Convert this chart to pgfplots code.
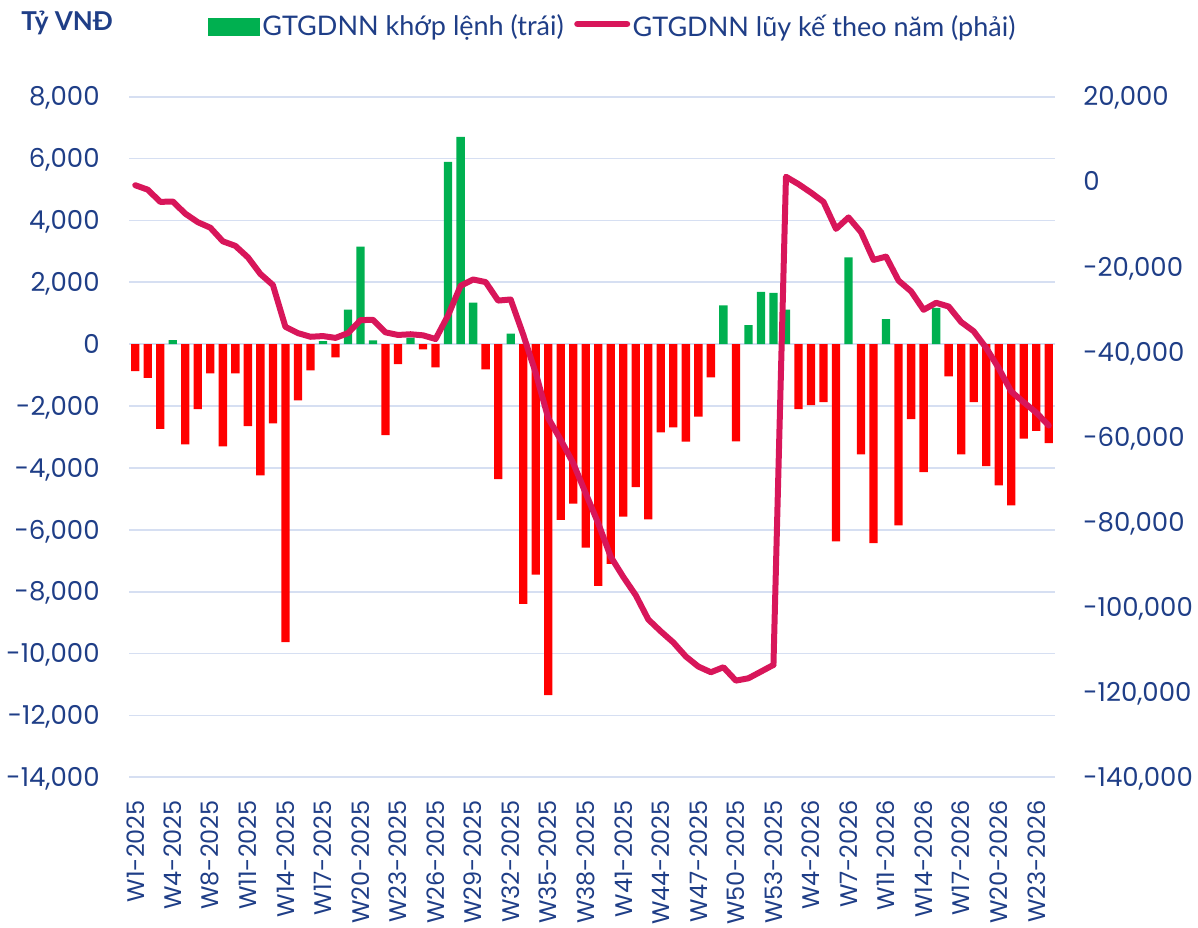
\documentclass[border=0pt]{standalone}
\usepackage{pgfplots}
\usepackage{pgfplotstable}
\pgfplotsset{compat=1.18}
\usepackage{fontspec}
\setmainfont{Poppins}
\newfontfamily\vnfont{Lato}
\definecolor{navy}{RGB}{31,62,135}
\definecolor{gridc}{RGB}{214,223,242}
\definecolor{barg}{RGB}{0,176,80}
\definecolor{barr}{RGB}{255,0,0}
\definecolor{linec}{RGB}{216,22,90}

\pgfplotstableread{
x y
3 130
15 100
17 1120
18 3150
19 120
22 215
25 5890
26 6700
27 1340
30 340
47 1255
49 620
50 1690
51 1660
52 1120
57 2810
60 810
64 1170
}\postab

\pgfplotstableread{
x y
0 -870
1 -1090
2 -2740
4 -3240
5 -2100
6 -945
7 -3300
8 -945
9 -2650
10 -4240
11 -2560
12 -9630
13 -1815
14 -850
16 -430
20 -2940
21 -645
23 -170
24 -750
28 -810
29 -4360
31 -8390
32 -7445
33 -11340
34 -5680
35 -5150
36 -6575
37 -7815
38 -7100
39 -5570
40 -4620
41 -5660
42 -2850
43 -2690
44 -3150
45 -2340
46 -1070
48 -3140
53 -2100
54 -1970
55 -1875
56 -6370
58 -3560
59 -6430
61 -5855
62 -2425
63 -4135
65 -1040
66 -3560
67 -1875
68 -3945
69 -4565
70 -5210
71 -3050
72 -2800
73 -3200
}\negtab

\pgfplotstableread{
x y
0 -815
1 -1860
2 -4725
3 -4640
4 -7500
5 -9500
6 -10800
7 -14000
8 -15070
9 -17760
10 -21670
11 -24280
12 -34100
13 -35575
14 -36440
15 -36270
16 -36700
17 -35575
18 -32530
19 -32450
20 -35400
21 -36010
22 -35840
23 -36100
24 -36965
25 -31400
26 -24450
27 -22970
28 -23580
29 -27930
30 -27670
31 -35900
32 -44940
33 -55550
34 -60660
35 -66160
36 -73240
37 -80310
38 -88170
39 -92890
40 -97210
41 -102900
42 -105700
43 -108300
44 -111600
45 -113970
46 -115300
47 -114130
48 -117270
49 -116720
50 -115150
51 -113580
}\linetabA

\pgfplotstableread{
x y
51 -113580
52 1180
53 -550
54 -2550
55 -4730
56 -11070
57 -8380
58 -11850
59 -18370
60 -17590
61 -23240
62 -25760
63 -30100
64 -28450
65 -29320
66 -32970
67 -35140
68 -39050
69 -43830
70 -49300
71 -51830
72 -54260
73 -57300
}\linetabB

\begin{document}
\begin{tikzpicture}
\useasboundingbox (0,0) rectangle (599pt,463.5pt);
\begin{axis}[
  at={(64.5pt,74.85pt)}, anchor=south west,
  scale only axis, width=463pt, height=340.3pt,
  xmin=-0.5, xmax=73.5, ymin=-14000, ymax=8000,
  scaled y ticks=false,
  axis line style={draw=none}, major tick style={draw=none}, minor tick style={draw=none},
  ybar, bar width=0.663, bar shift=0pt,
  ytick={-14000,-12000,-10000,-8000,-6000,-4000,-2000,0,2000,4000,6000,8000},
  yticklabels={{-14,000},{-12,000},{-10,000},{-8,000},{-6,000},{-4,000},{-2,000},{0},{2,000},{4,000},{6,000},{8,000}},
  ymajorgrids, grid style={gridc, line width=0.9pt},
  yticklabel style={anchor=base east, inner sep=0pt, yshift=-4.6pt, text=navy, font=\fontsize{13}{15}\selectfont},
  yticklabel shift=14.5pt,
  xtick={0,3,...,72},
  xticklabels={W1-2025,W4-2025,W8-2025,W11-2025,W14-2025,W17-2025,W20-2025,W23-2025,W26-2025,W29-2025,W32-2025,W35-2025,W38-2025,W41-2025,W44-2025,W47-2025,W50-2025,W53-2025,W4-2026,W7-2026,W11-2026,W14-2026,W17-2026,W20-2026,W23-2026},
  xticklabel style={rotate=90, anchor=east, inner sep=0pt, text=navy, font=\fontsize{12}{14}\selectfont},
  xticklabel shift=7pt,
  legend columns=2,
  legend style={at={(axis description cs:0.0853,1.1024)}, anchor=west, draw=none, fill=none,
    inner sep=0pt, outer sep=0pt, font=\vnfont\fontsize{13.5}{16}\selectfont, text=navy,
    /tikz/every even column/.append style={column sep=4pt},
    nodes={inner sep=1.25pt}},
]
\addplot[fill=barg, draw=none, legend image code/.code={\fill[barg] (0pt,-4.6pt) rectangle (26pt,4.6pt);}] table {\postab};
\addlegendentry{GTGDNN khớp lệnh (trái)}
\addplot[fill=barr, draw=none, forget plot] table {\negtab};
\addlegendimage{legend image code/.code={\draw[linec, line width=3.2pt, line cap=round] (1.6pt,1.5pt) -- (26.4pt,1.5pt);}}
\addlegendentry{GTGDNN lũy kế theo năm (phải)}
\end{axis}
\begin{axis}[
  at={(64.5pt,74.85pt)}, anchor=south west,
  scale only axis, width=463pt, height=340.3pt,
  xmin=-0.5, xmax=73.5, ymin=-140000, ymax=20000,
  scaled y ticks=false,
  axis x line=none, axis y line*=right,
  axis line style={draw=none}, major tick style={draw=none}, minor tick style={draw=none},
  ytick={-140000,-120000,-100000,-80000,-60000,-40000,-20000,0,20000},
  yticklabels={{-140,000},{-120,000},{-100,000},{-80,000},{-60,000},{-40,000},{-20,000},{0},{20,000}},
  yticklabel style={anchor=base west, inner sep=0pt, yshift=-4.6pt, text=navy, font=\fontsize{13}{15}\selectfont},
  yticklabel shift=14pt,
]
\addplot[linec, line width=3pt, line join=round, line cap=round] table {\linetabA};
\addplot[linec, line width=3pt, line join=round, line cap=round] table {\linetabB};
\end{axis}
\node[anchor=base west, inner sep=0pt, text=navy, font=\vnfont\bfseries\fontsize{13}{15}\selectfont] at (10.5pt,448.2pt) {Tỷ VNĐ};
\end{tikzpicture}
\end{document}
